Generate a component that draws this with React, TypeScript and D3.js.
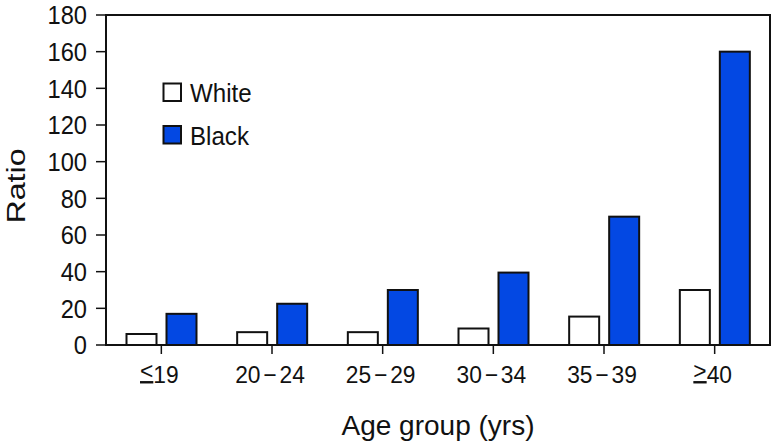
import React from "react";
import * as d3 from "d3";

// Ratio by maternal age group, two race series
const categories = ["<19", "20\u221224", "25\u221229", "30\u221234", "35\u221239", ">40"];
const series = ["White", "Black"];
const whiteValues = [6, 7, 7, 9, 15.5, 30];
const blackValues = [17, 22.5, 30, 39.5, 70, 160];
const yTicks = [0, 20, 40, 60, 80, 100, 120, 140, 160, 180];

const W = 772;
const H = 443;
const left = 106;
const right = 770;
const top = 15;
const bottom = 345;
const font = "'Liberation Sans', Arial, Helvetica, sans-serif";
const ink = "#111";
const blue = "#0348e3";
const sx = 0.91; // glyphs are drawn slightly condensed

// Category label: "<"/">" drawn underlined (as ≤ / ≥), ranges split around the minus sign
function CatLabel({ label }: { label: string }) {
  if (label[0] === "<" || label[0] === ">") {
    return (
      <>
        <tspan dy={-4} textDecoration="underline">{label[0]}</tspan>
        <tspan dy={4}>{label.slice(1)}</tspan>
      </>
    );
  }
  const [a, b] = label.split("\u2212");
  return (
    <>
      <tspan>{a}</tspan>
      <tspan dx={3}>{"\u2212"}</tspan>
      <tspan dx={3}>{b}</tspan>
    </>
  );
}

export default function App() {
  const x0 = d3.scaleBand<string>().domain(categories).range([left, right]);
  const x1 = d3
    .scaleBand<string>()
    .domain(series)
    .range([19.5, 91.5])
    .paddingInner(0.2);
  const y = d3.scaleLinear().domain([0, 180]).range([bottom, top]);

  const rows = categories.map((c, i) => ({
    cat: c,
    vals: [whiteValues[i], blackValues[i]],
  }));

  return (
    <svg width={W} height={H} style={{ display: "block", position: "absolute", left: 0, top: 0 }}>
      <rect x={0} y={0} width={W} height={H} fill="#fff" />

      {/* bars */}
      {rows.map((r) => (
        <g key={r.cat}>
          {series.map((s, j) => {
            const bx = (x0(r.cat) as number) + (x1(s) as number);
            const bw = x1.bandwidth();
            return (
              <rect
                key={s}
                x={bx + 1}
                y={y(r.vals[j])}
                width={bw - 2}
                height={bottom - y(r.vals[j])}
                fill={j === 0 ? "#fff" : blue}
                stroke={ink}
                strokeWidth={2}
              />
            );
          })}
        </g>
      ))}

      {/* frame */}
      <rect x={left} y={top} width={right - left} height={bottom - top} fill="none" stroke={ink} strokeWidth={2} />

      {/* y axis ticks */}
      {yTicks.map((t) => (
        <g key={t}>
          <line x1={left - 10} x2={left} y1={y(t)} y2={y(t)} stroke={ink} strokeWidth={1.5} />
          <text
            transform={`translate(87,${y(t) + 9.3}) scale(${sx},1)`}
            textAnchor="end"
            fontFamily={font}
            fontSize={26}
            fill={ink}
          >
            {t}
          </text>
        </g>
      ))}

      {/* x axis ticks */}
      {categories.map((c) => {
        const cx = (x0(c) as number) + x0.bandwidth() / 2;
        return (
          <g key={c}>
            <line x1={cx} x2={cx} y1={bottom} y2={bottom + 9} stroke={ink} strokeWidth={1.5} />
            <text
              transform={`translate(${cx - 2},383) scale(0.95,1)`}
              textAnchor="middle"
              fontFamily={font}
              fontSize={24}
              fill={ink}
            >
              <CatLabel label={c} />
            </text>
          </g>
        );
      })}

      {/* axis titles */}
      <text
        transform="translate(438,435)"
        textAnchor="middle"
        fontFamily={font}
        fontSize={28}
        fill={ink}
      >
        Age group (yrs)
      </text>
      <text
        transform={`translate(25,186) rotate(-90) scale(1.15,${sx})`}
        textAnchor="middle"
        fontFamily={font}
        fontSize={28}
        fill={ink}
      >
        Ratio
      </text>

      {/* legend */}
      {series.map((s, j) => (
        <g key={s} transform={`translate(0,${j * 42.5})`}>
          <rect x={163.5} y={83.5} width={17.5} height={17.5} fill={j === 0 ? "#fff" : blue} stroke={ink} strokeWidth={2} />
          <text
            transform={`translate(190,102.3) scale(${sx},1)`}
            fontFamily={font}
            fontSize={26.5}
            fill={ink}
          >
            {s}
          </text>
        </g>
      ))}
    </svg>
  );
}
